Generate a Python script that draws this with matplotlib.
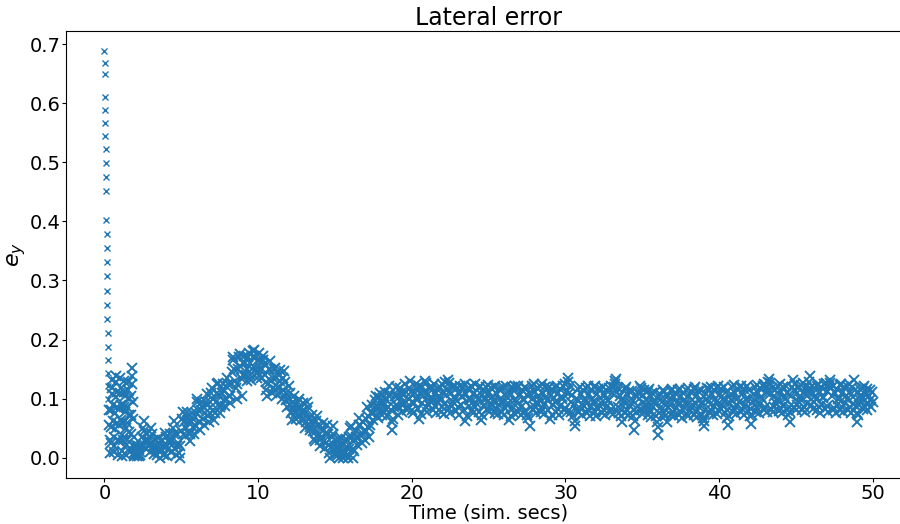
import numpy as np
import matplotlib
matplotlib.use('Agg')
import matplotlib.pyplot as plt

# 시작 직후 큰 오차 (dt = 0.01 s)
spike_t = [0.00, 0.01, 0.02, 0.04, 0.05, 0.06, 0.07, 0.08, 0.09, 0.10, 0.11, 0.13,
           0.14, 0.15, 0.16, 0.17, 0.18, 0.19, 0.20, 0.21, 0.22, 0.23, 0.24, 0.25, 0.26, 0.27]
spike_y = [0.688, 0.669, 0.650, 0.611, 0.589, 0.567, 0.544, 0.522, 0.499, 0.475, 0.452, 0.403,
           0.379, 0.355, 0.331, 0.307, 0.283, 0.259, 0.235, 0.211, 0.188, 0.165, 0.143, 0.121, 0.100, 0.080]

# 초반 진동 구간 0.3 ~ 2.275 s (dt = 0.025 s)
early_dt = 0.025
early_y = [0.080, 0.055, 0.030, 0.008, 0.025, 0.052, 0.080, 0.108, 0.132, 0.118,
           0.090, 0.062, 0.035, 0.010, 0.020, 0.048, 0.075, 0.102, 0.128, 0.138,
           0.112, 0.085, 0.058, 0.030, 0.005, 0.028, 0.055, 0.082, 0.110, 0.135,
           0.118, 0.090, 0.064, 0.038, 0.012, 0.003, 0.030, 0.058, 0.085, 0.112,
           0.130, 0.105, 0.078, 0.050, 0.022, 0.004, 0.030, 0.058, 0.086, 0.115,
           0.128, 0.100, 0.072, 0.044, 0.016, 0.010, 0.040, 0.072, 0.105, 0.138,
           0.152, 0.125, 0.095, 0.065, 0.035, 0.008, 0.002, 0.018, 0.010, 0.004,
           0.022, 0.012, 0.003, 0.016, 0.008, 0.020, 0.006, 0.014, 0.002, 0.018]

# 이후 구간: 한 줄 = 1초 (2.3+k ~ 3.25+k, 0.05 s 간격)
row_dt = 0.05
ey_rows = [
    [0.010, 0.005, 0.020, 0.035, 0.050, 0.062, 0.045, 0.030, 0.015, 0.025, 0.040, 0.030, 0.020, 0.010, 0.025, 0.050, 0.040, 0.020, 0.006, 0.015],
    [0.030, 0.020, 0.005, 0.015, 0.034, 0.025, 0.010, 0.000, 0.015, 0.030, 0.020, 0.005, 0.020, 0.042, 0.035, 0.020, 0.003, 0.015, 0.030, 0.040],
    [0.025, 0.010, 0.030, 0.050, 0.062, 0.040, 0.015, 0.005, 0.020, 0.040, 0.025, 0.008, 0.000, 0.020, 0.045, 0.065, 0.078, 0.060, 0.040, 0.036],
    [0.050, 0.070, 0.078, 0.060, 0.042, 0.028, 0.040, 0.060, 0.075, 0.065, 0.050, 0.040, 0.055, 0.075, 0.095, 0.100, 0.080, 0.060, 0.047, 0.060],
    [0.080, 0.095, 0.085, 0.065, 0.055, 0.075, 0.095, 0.107, 0.090, 0.070, 0.060, 0.075, 0.095, 0.110, 0.118, 0.100, 0.080, 0.064, 0.075, 0.095],
    [0.110, 0.125, 0.127, 0.105, 0.085, 0.076, 0.090, 0.110, 0.125, 0.115, 0.098, 0.088, 0.100, 0.120, 0.135, 0.125, 0.105, 0.093, 0.105, 0.125],
    [0.145, 0.165, 0.170, 0.150, 0.130, 0.118, 0.100, 0.125, 0.150, 0.170, 0.175, 0.155, 0.135, 0.105, 0.140, 0.160, 0.172, 0.160, 0.140, 0.130],
    [0.150, 0.170, 0.178, 0.160, 0.140, 0.132, 0.150, 0.170, 0.180, 0.182, 0.170, 0.150, 0.135, 0.145, 0.165, 0.178, 0.165, 0.148, 0.135, 0.150],
    [0.165, 0.172, 0.158, 0.140, 0.128, 0.115, 0.104, 0.125, 0.150, 0.163, 0.150, 0.130, 0.110, 0.118, 0.135, 0.150, 0.152, 0.135, 0.115, 0.106],
    [0.120, 0.140, 0.148, 0.130, 0.112, 0.100, 0.115, 0.135, 0.146, 0.128, 0.110, 0.098, 0.085, 0.100, 0.121, 0.110, 0.090, 0.075, 0.064, 0.080],
    [0.095, 0.105, 0.090, 0.075, 0.066, 0.080, 0.095, 0.100, 0.085, 0.070, 0.064, 0.078, 0.092, 0.080, 0.065, 0.050, 0.060, 0.078, 0.095, 0.085],
    [0.068, 0.052, 0.047, 0.060, 0.073, 0.062, 0.045, 0.032, 0.028, 0.045, 0.062, 0.070, 0.055, 0.040, 0.030, 0.020, 0.035, 0.050, 0.059, 0.045],
    [0.028, 0.016, 0.025, 0.042, 0.055, 0.040, 0.022, 0.008, 0.000, 0.018, 0.035, 0.053, 0.040, 0.022, 0.005, 0.015, 0.030, 0.020, 0.005, 0.000],
    [0.015, 0.030, 0.034, 0.020, 0.005, 0.000, 0.012, 0.028, 0.032, 0.018, 0.004, 0.000, 0.015, 0.035, 0.050, 0.053, 0.035, 0.015, 0.000, 0.012],
    [0.030, 0.045, 0.035, 0.022, 0.035, 0.055, 0.068, 0.055, 0.038, 0.025, 0.040, 0.060, 0.045, 0.030, 0.045, 0.065, 0.085, 0.070, 0.050, 0.035],
    [0.055, 0.075, 0.090, 0.075, 0.064, 0.080, 0.098, 0.104, 0.088, 0.070, 0.068, 0.085, 0.102, 0.110, 0.095, 0.080, 0.072, 0.088, 0.105, 0.112],
    [0.098, 0.082, 0.070, 0.085, 0.105, 0.122, 0.108, 0.080, 0.060, 0.047, 0.065, 0.085, 0.105, 0.119, 0.105, 0.088, 0.072, 0.085, 0.102, 0.118],
    [0.110, 0.092, 0.078, 0.090, 0.108, 0.124, 0.112, 0.095, 0.080, 0.085, 0.100, 0.118, 0.129, 0.112, 0.095, 0.080, 0.076, 0.092, 0.110, 0.125],
    [0.100, 0.118, 0.082, 0.122, 0.066, 0.110, 0.074, 0.120, 0.092, 0.104, 0.112, 0.130, 0.085, 0.126, 0.078, 0.108, 0.090, 0.118, 0.096, 0.102],
    [0.098, 0.120, 0.080, 0.124, 0.088, 0.110, 0.075, 0.116, 0.094, 0.104, 0.100, 0.119, 0.078, 0.125, 0.086, 0.112, 0.074, 0.128, 0.092, 0.106],
    [0.115, 0.132, 0.082, 0.126, 0.076, 0.110, 0.088, 0.120, 0.095, 0.103, 0.099, 0.121, 0.079, 0.118, 0.085, 0.110, 0.073, 0.122, 0.090, 0.102],
    [0.104, 0.120, 0.080, 0.124, 0.062, 0.108, 0.070, 0.117, 0.088, 0.100, 0.098, 0.122, 0.081, 0.119, 0.076, 0.110, 0.086, 0.124, 0.093, 0.105],
    [0.100, 0.118, 0.078, 0.121, 0.064, 0.106, 0.072, 0.115, 0.090, 0.101, 0.097, 0.120, 0.082, 0.123, 0.077, 0.112, 0.084, 0.118, 0.091, 0.103],
    [0.096, 0.119, 0.076, 0.122, 0.083, 0.108, 0.074, 0.116, 0.089, 0.100, 0.095, 0.117, 0.078, 0.120, 0.072, 0.106, 0.084, 0.121, 0.090, 0.101],
    [0.092, 0.064, 0.110, 0.070, 0.119, 0.082, 0.114, 0.076, 0.121, 0.098, 0.094, 0.118, 0.077, 0.121, 0.082, 0.108, 0.073, 0.115, 0.088, 0.100],
    [0.097, 0.120, 0.079, 0.117, 0.072, 0.105, 0.068, 0.110, 0.053, 0.085, 0.100, 0.121, 0.080, 0.124, 0.085, 0.112, 0.075, 0.118, 0.092, 0.104],
    [0.098, 0.122, 0.078, 0.125, 0.083, 0.110, 0.074, 0.119, 0.091, 0.103, 0.097, 0.118, 0.080, 0.120, 0.066, 0.106, 0.072, 0.116, 0.089, 0.101],
    [0.095, 0.119, 0.077, 0.121, 0.082, 0.110, 0.073, 0.117, 0.090, 0.102, 0.099, 0.122, 0.080, 0.125, 0.084, 0.112, 0.078, 0.128, 0.135, 0.110],
    [0.122, 0.095, 0.078, 0.106, 0.070, 0.090, 0.053, 0.062, 0.080, 0.100, 0.096, 0.117, 0.077, 0.120, 0.082, 0.108, 0.072, 0.114, 0.088, 0.100],
    [0.094, 0.118, 0.075, 0.121, 0.081, 0.107, 0.071, 0.115, 0.087, 0.099, 0.095, 0.119, 0.078, 0.122, 0.070, 0.108, 0.082, 0.117, 0.089, 0.101],
    [0.093, 0.116, 0.076, 0.120, 0.080, 0.106, 0.072, 0.114, 0.088, 0.098, 0.096, 0.118, 0.077, 0.121, 0.083, 0.110, 0.074, 0.120, 0.124, 0.130],
    [0.134, 0.112, 0.085, 0.118, 0.076, 0.105, 0.070, 0.098, 0.060, 0.088, 0.094, 0.116, 0.076, 0.119, 0.081, 0.106, 0.072, 0.113, 0.087, 0.099],
    [0.092, 0.113, 0.070, 0.080, 0.047, 0.062, 0.078, 0.105, 0.088, 0.110, 0.100, 0.121, 0.080, 0.118, 0.074, 0.106, 0.084, 0.115, 0.090, 0.098],
    [0.090, 0.113, 0.072, 0.116, 0.078, 0.104, 0.069, 0.110, 0.085, 0.096, 0.092, 0.112, 0.070, 0.060, 0.039, 0.052, 0.075, 0.108, 0.086, 0.100],
    [0.094, 0.115, 0.075, 0.112, 0.070, 0.090, 0.060, 0.085, 0.104, 0.098, 0.090, 0.113, 0.073, 0.116, 0.078, 0.102, 0.070, 0.109, 0.084, 0.095],
    [0.091, 0.114, 0.072, 0.117, 0.077, 0.104, 0.068, 0.110, 0.085, 0.097, 0.092, 0.115, 0.074, 0.118, 0.071, 0.105, 0.080, 0.112, 0.087, 0.098],
    [0.090, 0.116, 0.073, 0.119, 0.078, 0.106, 0.069, 0.113, 0.086, 0.097, 0.093, 0.114, 0.072, 0.068, 0.053, 0.062, 0.080, 0.108, 0.118, 0.100],
    [0.094, 0.117, 0.076, 0.120, 0.081, 0.107, 0.072, 0.114, 0.088, 0.099, 0.095, 0.118, 0.074, 0.121, 0.079, 0.108, 0.083, 0.116, 0.089, 0.100],
    [0.096, 0.119, 0.075, 0.112, 0.068, 0.080, 0.055, 0.070, 0.092, 0.108, 0.097, 0.120, 0.078, 0.123, 0.082, 0.110, 0.074, 0.117, 0.090, 0.101],
    [0.095, 0.119, 0.077, 0.122, 0.083, 0.109, 0.073, 0.116, 0.089, 0.100, 0.098, 0.121, 0.079, 0.114, 0.070, 0.082, 0.057, 0.072, 0.095, 0.108],
    [0.097, 0.120, 0.078, 0.123, 0.084, 0.110, 0.075, 0.118, 0.091, 0.102, 0.099, 0.122, 0.080, 0.125, 0.086, 0.112, 0.078, 0.120, 0.128, 0.134],
    [0.126, 0.108, 0.082, 0.118, 0.077, 0.104, 0.086, 0.115, 0.092, 0.100, 0.098, 0.121, 0.079, 0.124, 0.084, 0.111, 0.075, 0.119, 0.090, 0.102],
    [0.100, 0.122, 0.080, 0.110, 0.072, 0.085, 0.060, 0.078, 0.105, 0.120, 0.132, 0.115, 0.085, 0.124, 0.080, 0.110, 0.090, 0.118, 0.095, 0.104],
    [0.100, 0.123, 0.081, 0.126, 0.086, 0.112, 0.077, 0.120, 0.092, 0.104, 0.112, 0.128, 0.138, 0.118, 0.090, 0.122, 0.082, 0.110, 0.095, 0.104],
    [0.099, 0.122, 0.080, 0.125, 0.085, 0.111, 0.076, 0.119, 0.091, 0.103, 0.101, 0.124, 0.082, 0.126, 0.087, 0.113, 0.078, 0.121, 0.126, 0.132],
    [0.118, 0.104, 0.080, 0.122, 0.084, 0.110, 0.075, 0.117, 0.090, 0.100, 0.100, 0.123, 0.081, 0.125, 0.086, 0.112, 0.077, 0.120, 0.092, 0.104],
    [0.099, 0.122, 0.080, 0.124, 0.085, 0.111, 0.076, 0.119, 0.091, 0.103, 0.132, 0.115, 0.088, 0.076, 0.060, 0.072, 0.090, 0.116, 0.098, 0.106],
    [0.100, 0.118, 0.082, 0.121, 0.086, 0.112, 0.080, 0.116, 0.093, 0.104, 0.098, 0.115, 0.085, 0.112, 0.094],
]

t_early = 0.3 + early_dt * np.arange(len(early_y))
t_main = np.concatenate([2.3 + k + row_dt * np.arange(len(r)) for k, r in enumerate(ey_rows)])
ey_main = np.concatenate([np.array(r) for r in ey_rows])

fig = plt.figure(figsize=(9, 5.24), dpi=100)
ax = fig.add_axes([0.0733, 0.0878, 0.939, 0.853])
# 같은 계열: 첫 구간은 작은 마커, 밀집 구간은 조금 더 굵게
ax.plot(spike_t, spike_y, 'x', color='#1f77b4', markersize=4.5, markeredgewidth=1.0)
ax.plot(np.concatenate([t_early, t_main]), np.concatenate([early_y, ey_main]), 'x',
        color='#1f77b4', markersize=6.5, markeredgewidth=1.4)
ax.set_title('Lateral error', fontsize=17, pad=4)
ax.set_xlabel('Time (sim. secs)', fontsize=14, labelpad=1)
ax.set_ylabel('$e_y$', fontsize=16, labelpad=1)
ax.tick_params(labelsize=14, length=3, pad=1)
ax.set_xticks([0, 10, 20, 30, 40, 50])
ax.set_yticks([0.0, 0.1, 0.2, 0.3, 0.4, 0.5, 0.6, 0.7])
ax.set_xlim(-2.5, 52.5)
ax.set_ylim(-0.0344, 0.7224)

fig.savefig('out.png', dpi=100)
